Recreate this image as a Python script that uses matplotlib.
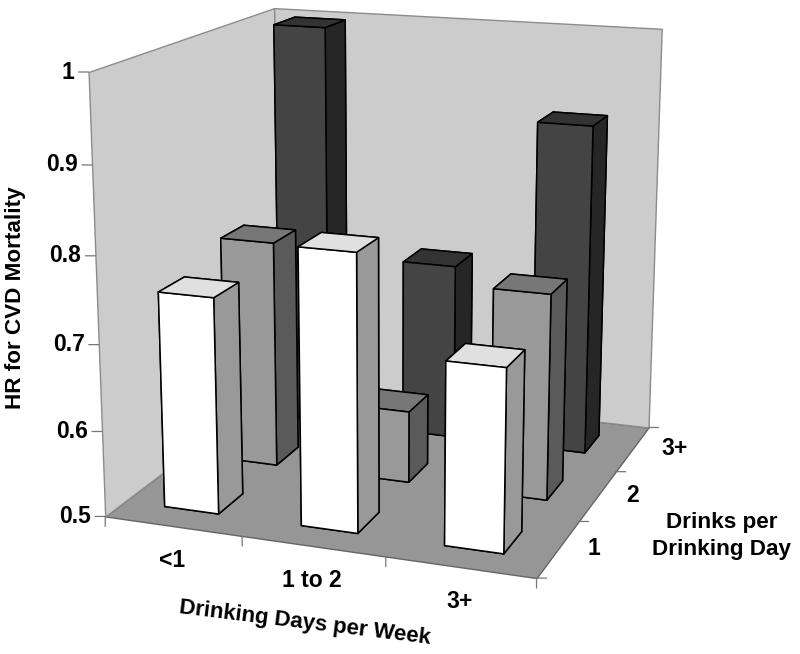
import numpy as np
import matplotlib
matplotlib.use("Agg")
import matplotlib.pyplot as plt
from mpl_toolkits.mplot3d import proj3d
from mpl_toolkits.mplot3d.art3d import Poly3DCollection

plt.rcParams['font.family'] = ['Liberation Sans', 'DejaVu Sans']

days_labels = ['<1', '1 to 2', '3+']
drinks_labels = ['1', '2', '3+']
z_ticks = [0.5, 0.6, 0.7, 0.8, 0.9, 1]

# rows: drinks per day, cols: days per week
hr_one = [0.751, 0.817, 0.708]
hr_two = [0.772, 0.586, 0.743]
hr_three = [0.998, 0.717, 0.901]

row_faces = [
    ['#e0e0e0', '#ffffff', '#999999'],   # top, front, side
    ['#777777', '#999999', '#5a5a5a'],
    ['#333333', '#444444', '#262626'],
]

bar_w = 0.40
bar_d = 0.40
z0 = 0.5
tick_col = '#777777'

fig = plt.figure(figsize=(8, 6.54), dpi=100)
# camera values fitted to the corners of the reference box
ax = fig.add_axes([-16.51 / 800, 53.32 / 654, 1, 1], projection='3d', computed_zorder=False)
ax.set_xlim(0, 3)
ax.set_ylim(0, 3)
ax.set_zlim(0.5, 1)
ax.view_init(elev=15.07, azim=-69.99)
ax.set_proj_type('persp', focal_length=0.6032)
ax.set_box_aspect((1, 0.9969, 1.0021), zoom=1.1156)
ax.set_axis_off()


def screen(x, y, z):
    px, py, _ = proj3d.proj_transform(x, y, z, ax.get_proj())
    return px, py


def tick(x, y, z, dx, dy):
    ax.annotate('', xy=screen(x, y, z), xytext=(dx, dy), textcoords='offset pixels',
                annotation_clip=False, zorder=2,
                arrowprops=dict(arrowstyle='-', color=tick_col, lw=0.9, shrinkA=0, shrinkB=0))


def label(x, y, z, txt, dx, dy, ha):
    ax.annotate(txt, xy=screen(x, y, z), xytext=(dx, dy), textcoords='offset pixels',
                ha=ha, va='center', fontsize=16.5, fontweight='bold', annotation_clip=False)


# floor and walls
walls = [
    ([[0, 0, z0], [3, 0, z0], [3, 3, z0], [0, 3, z0]], '#969696', '#666666'),
    ([[0, 0, z0], [0, 3, z0], [0, 3, 1], [0, 0, 1]], '#cccccc', '#8c8c8c'),
    ([[0, 3, z0], [3, 3, z0], [3, 3, 1], [0, 3, 1]], '#cccccc', '#8c8c8c'),
]
for verts, col, ec in walls:
    ax.add_collection3d(Poly3DCollection([verts], facecolors=col, edgecolors=ec, linewidths=1.0, zorder=1))

for k in range(4):
    tick(k, 0, z0, 0, -10)
    tick(3, k, z0, 10, 0)

for t in z_ticks:
    tick(0, 0, t, -10, 0)
    label(0, 0, t, str(t), -14, 0, 'right')

for k, lab in enumerate(days_labels):
    label(k + 0.5, 0, z0, lab, -1, -34, 'center')
for k, lab in enumerate(drinks_labels):
    label(3, k + 0.5, z0, lab, 29, 0, 'left')

# bars, drawn from the back row to the front
order = 10
for r, vals in reversed(list(enumerate([hr_one, hr_two, hr_three]))):
    top, front, side = row_faces[r]
    for c, v in enumerate(vals):
        cols = [top, top, front, front, side, side]
        ax.bar3d(c + 0.495 - bar_w / 2, r + 0.5 - bar_d / 2, z0, bar_w, bar_d, v - z0,
                 color=cols, shade=False, edgecolor='black', linewidth=1.1, zorder=order)
        order += 1

fig.text(16 / 800, 1 - 298 / 654, 'HR for CVD Mortality', rotation=90, ha='center', va='center',
         fontsize=16.2, fontweight='bold')
fig.text(305 / 800, 1 - 623 / 654, 'Drinking Days per Week', rotation=-7, ha='center', va='center',
         rotation_mode='anchor', fontsize=16, fontweight='bold')
fig.text(722 / 800, 1 - 536 / 654, 'Drinks per\nDrinking Day', ha='center', va='center',
         fontsize=16.2, fontweight='bold', linespacing=1.4)

fig.savefig('out.png', dpi=100)
